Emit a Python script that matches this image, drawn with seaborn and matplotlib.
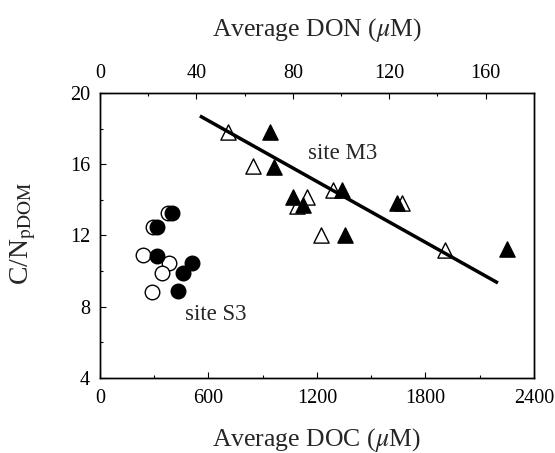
import matplotlib
matplotlib.use("Agg")
import matplotlib.pyplot as plt
from matplotlib.ticker import MultipleLocator
import seaborn as sns
import pandas as pd
import numpy as np

# ---- data ----
# site S3 (circles)
s3_doc = [398, 315, 315, 509, 459, 431]           # filled: vs Average DOC
s3_doc_cn = [13.26, 12.47, 10.85, 10.45, 9.89, 8.88]
s3_don = [28.2, 22.0, 17.9, 28.7, 25.7, 21.6]     # open: vs Average DON
s3_don_cn = [13.26, 12.47, 10.90, 10.46, 9.89, 8.83]

# site M3 (triangles)
m3_doc = [940, 962, 1067, 1123, 1338, 1355, 1642, 2251]
m3_doc_cn = [17.81, 15.85, 14.16, 13.71, 14.55, 12.03, 13.82, 11.24]
m3_don = [53.1, 63.5, 85.9, 81.7, 96.6, 91.7, 125.3, 143.1]
m3_don_cn = [17.81, 15.90, 14.16, 13.66, 14.55, 12.03, 13.82, 11.18]

# regression line for site M3
fit_x = [553, 2201]
fit_intercept = 21.86
fit_slope = -0.00569

doc_ticks = [0, 600, 1200, 1800, 2400]
don_ticks = [0, 40, 80, 120, 160]
cn_ticks = [4, 8, 12, 16, 20]

# ---- style ----
sns.set_theme(style="ticks")
plt.rcParams["font.family"] = ["Liberation Serif", "DejaVu Serif"]
plt.rcParams["mathtext.fontset"] = "stix"

fig = plt.figure(figsize=(5.55, 4.53), dpi=100)
ax = fig.add_axes([0.180, 0.1656, 0.782, 0.6291])
ax2 = ax.twiny()
ax.set_zorder(ax2.get_zorder() + 1)
ax.patch.set_visible(False)

df_doc_s3 = pd.DataFrame({"x": s3_doc, "y": s3_doc_cn})
df_doc_m3 = pd.DataFrame({"x": m3_doc, "y": m3_doc_cn})
df_don_s3 = pd.DataFrame({"x": s3_don, "y": s3_don_cn})
df_don_m3 = pd.DataFrame({"x": m3_don, "y": m3_don_cn})

# open symbols vs DON (top axis)
sns.scatterplot(data=df_don_s3, x="x", y="y", ax=ax2, marker="o", s=110,
                facecolor="white", edgecolor="black", linewidth=1.0, legend=False)
sns.scatterplot(data=df_don_m3, x="x", y="y", ax=ax2, marker="^", s=120,
                facecolor="white", edgecolor="black", linewidth=1.0, legend=False)
# filled symbols vs DOC (bottom axis)
sns.scatterplot(data=df_doc_s3, x="x", y="y", ax=ax, marker="o", s=110,
                color="black", edgecolor="black", linewidth=1.0, legend=False)
sns.scatterplot(data=df_doc_m3, x="x", y="y", ax=ax, marker="^", s=120,
                color="black", edgecolor="black", linewidth=1.0, legend=False)

fx = np.array(fit_x, dtype=float)
ax.plot(fx, fit_intercept + fit_slope * fx, color="black", lw=2.5, solid_capstyle="butt")

ax.text(1150, 16.63, "site M3", fontsize=16.5, ha="left", va="center")
ax.text(470, 7.54, "site S3", fontsize=16.5, ha="left", va="center")

ax.set_xlim(0, 2400)
ax.set_ylim(4, 20)
ax2.set_xlim(0, 180)
ax2.set_ylim(4, 20)

ax.set_xticks(doc_ticks)
ax.xaxis.set_minor_locator(MultipleLocator(300))
ax.set_yticks(cn_ticks)
ax.yaxis.set_minor_locator(MultipleLocator(2))
ax2.set_xticks(don_ticks)
ax2.xaxis.set_minor_locator(MultipleLocator(20))

for a in (ax, ax2):
    for sp in a.spines.values():
        sp.set_linewidth(1.0)
        sp.set_color("black")

ax.tick_params(axis="both", which="both", direction="in", top=False, right=False,
               labelsize=14.5, colors="black")
ax.tick_params(which="major", length=4.5, width=0.8)
ax.tick_params(which="minor", length=2.5, width=0.8)
ax.tick_params(axis="x", which="major", pad=8)
ax.tick_params(axis="y", which="major", pad=7)
ax2.tick_params(axis="x", which="both", direction="in", labelsize=14.5, colors="black")
ax2.tick_params(axis="x", which="major", length=4.5, width=0.8, pad=7.5)
ax2.tick_params(axis="x", which="minor", length=2.5, width=0.8)
ax2.tick_params(axis="y", left=False, right=False, labelleft=False, labelright=False)

ax.set_xlabel(r"Average DOC ($\mu$M)", fontsize=18.5)
ax.xaxis.set_label_coords(0.5, -0.168)
ax2.set_xlabel(r"Average DON ($\mu$M)", fontsize=18.5)
ax2.xaxis.set_label_coords(0.5, 1.20)
ax.set_ylabel(r"C/N$_{\mathrm{pDOM}}$", fontsize=20)
ax.yaxis.set_label_coords(-0.143, 0.509)
ax2.set_ylabel("")

fig.savefig("out.png", dpi=100)
